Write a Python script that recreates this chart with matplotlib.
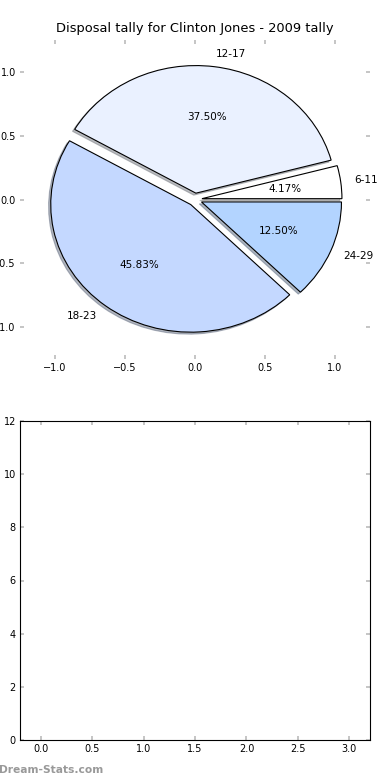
import matplotlib
matplotlib.use("Agg")
import matplotlib.pyplot as plt

labels = ["6-11", "12-17", "18-23", "24-29"]
counts = [1, 9, 11, 3]
colors = ["#FFFFFF", "#EAF1FF", "#C4D8FF", "#B3D4FF"]
explode = [0.05, 0.05, 0.05, 0.05]
title = "Disposal tally for Clinton Jones - 2009 tally"
pie_ticks = [-1.0, -0.5, 0.0, 0.5, 1.0]
bar_xticks = [0.0, 0.5, 1.0, 1.5, 2.0, 2.5, 3.0]
bar_yticks = [0, 2, 4, 6, 8, 10, 12]

fig = plt.figure(figsize=(3.9, 7.8), dpi=100)
ax1 = fig.add_axes([20/390, 1-359/780, 350/390, 319/780])
ax2 = fig.add_axes([20/390, 40/780, 350/390, 319/780])

wedges, texts, autotexts = ax1.pie(
    counts, explode=explode, labels=labels, colors=colors,
    autopct="%1.2f%%", shadow=dict(ox=-0.011, oy=-0.011, shade=0.5),
    startangle=0,
    wedgeprops=dict(edgecolor="black", linewidth=0.8),
    textprops=dict(fontsize=7.5))
ax1.set_aspect("auto")
ax1.set_xlim(-1.25, 1.25)
ax1.set_ylim(-1.25, 1.25)
ax1.set_frame_on(False)
ax1.set_xticks(pie_ticks)
ax1.set_yticks(pie_ticks)
ax1.set_title(title, fontsize=9.4, pad=6)

ax2.set_xlim(-0.2, 3.2)
ax2.set_ylim(0, 12)
ax2.set_xticks(bar_xticks)
ax2.set_yticks(bar_yticks)

for ax in (ax1, ax2):
    ax.tick_params(direction="in", length=3, width=1.2, color="#bbbbbb",
                   labelsize=7, top=True, right=True, pad=3)

fig.text(-0.003, 0.006, "Dream-Stats.com", fontsize=7.7, color="#999999",
         fontweight="bold", ha="left", va="bottom")

fig.savefig("out.png", dpi=100)
